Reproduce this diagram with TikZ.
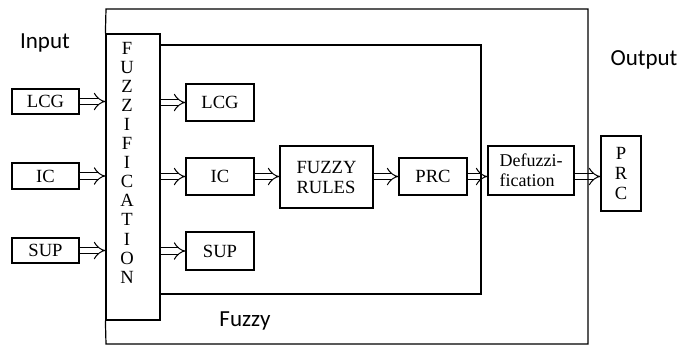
\documentclass[tikz,border=0pt]{standalone}
\usepackage{fontspec}
\setmainfont{Liberation Serif}
\newfontfamily\labelfont{Carlito}
\usetikzlibrary{arrows.meta}

\begin{document}
\begin{tikzpicture}[x=0.5pt,y=-0.5pt,
    blk/.style 2 args={rectangle, draw, line width=0.6pt, minimum width=#1*0.5pt, minimum height=#2*0.5pt, inner sep=0pt, font=\fontsize{9.3}{10}\selectfont},
    dbl/.style={double, double distance=2.6pt, line width=0.5pt, -{Implies[length=3.5pt, width=7pt]}},
    lbl/.style={font=\labelfont\fontsize{11.5}{13}\selectfont}]

      \useasboundingbox (0,0) rectangle (694,345);

      \node[lbl] (input) at (45,43) {Input};
      \node[lbl] (output) at (644,60) {Output};
      \node[lbl] (fuzzy) at (245,321) {Fuzzy};

      \node[blk={67}{25}] (inLCG) at (45.5,101.5) {LCG};
      \node[blk={67}{26}] (inIC) at (45.5,176) {IC};
      \node[blk={67}{25}] (inSUP) at (45.5,250.5) {SUP};

      \node[blk={54}{286}] (fuzz) at (133,177) {};
      \node[align=center, font=\fontsize{9.3}{9.55}\selectfont] (fuzztext) at (127,162.5) {F\\U\\Z\\Z\\I\\F\\I\\C\\A\\T\\I\\O\\N};

      \node[blk={68}{37}] (midLCG) at (220,102.5) {LCG};
      \node[blk={68}{37}] (midIC) at (220,176.5) {IC};
      \node[blk={68}{38}] (midSUP) at (220,251) {SUP};

      \node[blk={93}{62}, align=left] (rules) at (326.5,177) {FUZZY\\RULES};
      \node[blk={68}{37}] (prc) at (433,176.5) {PRC};
      \node[blk={86}{49}, align=left, font=\fontsize{9}{10}\selectfont] (defuzz) at (531,170.5) {Defuzzi-\\fication};
      \node[blk={40}{75}, align=center] (outPRC) at (621,173.5) {P\\R\\C};

      \draw[dbl] (inLCG.east) -- (inLCG.east -| fuzz.west);
      \draw[dbl] (inIC.east) -- (inIC.east -| fuzz.west);
      \draw[dbl] (inSUP.east) -- (inSUP.east -| fuzz.west);

      \draw[dbl] (fuzz.east |- midLCG.west) -- (midLCG.west);
      \draw[dbl] (fuzz.east |- midIC.west) -- (midIC.west);
      \draw[dbl] (fuzz.east |- midSUP.west) -- (midSUP.west);

      \draw[dbl] (midIC.east) -- (midIC.east -| rules.west);
      \draw[dbl] (rules.east |- prc.west) -- (prc.west);
      \draw[dbl] (prc.east) -- (prc.east -| defuzz.west);
      \draw[dbl] (defuzz.east |- prc.east) -- (outPRC.west |- prc.east);

      % frames
      \draw[line width=0.6pt] (fuzz.north west) -- (106,9) -- (588,9) -- (588,344) -- (106,344) -- (fuzz.south west);
      \draw[line width=1.4pt] (fuzz.east |- 0,45) -- (481,45) -- (481,294) -- (fuzz.east |- 0,294);

    \end{tikzpicture}
\end{document}
